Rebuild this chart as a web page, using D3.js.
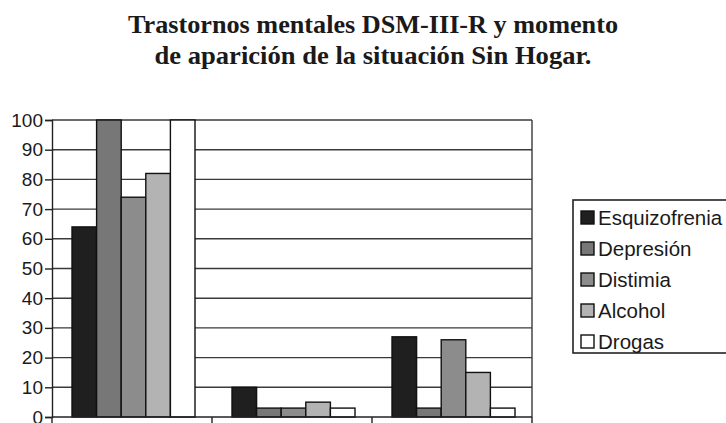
<!DOCTYPE html>
<html>
<head>
<meta charset="utf-8">
<script src="https://cdn.jsdelivr.net/npm/d3@7/dist/d3.min.js"></script>
<style>
  html, body { margin: 0; padding: 0; background: #fff; }
  svg { display: block; }
</style>
</head>
<body>
<svg id="chart" width="726" height="423"></svg>
<script>
// Momento de aparición (three groups, unlabeled on the axis)
const groups = ["Antes", "Durante", "Después"];
const series = ["Esquizofrenia", "Depresión", "Distimia", "Alcohol", "Drogas"];
const esquizofrenia = [64, 10, 27];
const depresion     = [100, 3, 3];
const distimia      = [74, 3, 26];
const alcohol       = [82, 5, 15];
const drogas        = [100, 3, 3];
const yTicks = [0, 10, 20, 30, 40, 50, 60, 70, 80, 90, 100];
const titleLines = ["Trastornos mentales DSM-III-R y momento", "de aparición de la situación Sin Hogar."];

const seriesValues = [esquizofrenia, depresion, distimia, alcohol, drogas];
const fills = ["#1f1f1f", "#777777", "#8c8c8c", "#b3b3b3", "#ffffff"];

const svg = d3.select("#chart");
const plot = { left: 52, right: 532, top: 120, bottom: 417 };

// Title (two centred lines, fitted to the set widths)
const titleWidths = [490, 437];
svg.append("g").selectAll("text")
  .data(titleLines)
  .join("text")
  .attr("x", 373)
  .attr("y", (d, i) => 33 + i * 31)
  .attr("text-anchor", "middle")
  .attr("textLength", (d, i) => titleWidths[i])
  .attr("lengthAdjust", "spacingAndGlyphs")
  .style("font-family", "'Liberation Serif', 'Times New Roman', serif")
  .style("font-weight", "bold")
  .style("font-size", "26px")
  .attr("fill", "#1a1a1a")
  .text(d => d);

const y = d3.scaleLinear().domain([0, 100]).range([plot.bottom, plot.top]);
const x0 = d3.scaleBand().domain(groups).range([plot.left, plot.right]).padding(0);
const x1 = d3.scaleBand().domain(series).range([20, x0.bandwidth() - 17]).padding(0);

// Horizontal gridlines
svg.append("g").selectAll("line")
  .data(yTicks.filter(t => t > 0))
  .join("line")
  .attr("x1", plot.left).attr("x2", plot.right)
  .attr("y1", d => y(d)).attr("y2", d => y(d))
  .attr("stroke", "#3a3a3a").attr("stroke-width", 1.4);

// Plot frame (right side)
svg.append("line")
  .attr("x1", plot.right).attr("x2", plot.right)
  .attr("y1", plot.top).attr("y2", plot.bottom)
  .attr("stroke", "#3a3a3a").attr("stroke-width", 1.4);

// Bars
const groupG = svg.append("g").selectAll("g")
  .data(groups)
  .join("g")
  .attr("transform", d => `translate(${x0(d)},0)`);

groupG.selectAll("rect")
  .data((g, gi) => series.map((s, si) => ({ s, si, v: seriesValues[si][gi] })))
  .join("rect")
  .attr("x", d => x1(d.s))
  .attr("y", d => y(d.v))
  .attr("width", x1.bandwidth())
  .attr("height", d => y(0) - y(d.v))
  .attr("fill", d => fills[d.si])
  .attr("stroke", "#111")
  .attr("stroke-width", 1.4);

// Y axis
const yAxis = svg.append("g")
  .attr("transform", `translate(${plot.left},0)`)
  .call(d3.axisLeft(y).tickValues(yTicks).tickSize(7).tickPadding(2).tickFormat(d3.format("d")));
yAxis.select(".domain").attr("stroke", "#222").attr("stroke-width", 1.4);
yAxis.selectAll(".tick line").attr("stroke", "#222").attr("stroke-width", 1.4);
yAxis.selectAll("text")
  .style("font-family", "'Liberation Sans', Arial, sans-serif")
  .style("font-size", "19px")
  .attr("fill", "#1a1a1a");

// X axis with tick marks at group boundaries
const xAxis = svg.append("g")
  .attr("transform", `translate(0,${plot.bottom})`);
xAxis.append("line")
  .attr("x1", plot.left).attr("x2", plot.right)
  .attr("y1", 0).attr("y2", 0)
  .attr("stroke", "#222").attr("stroke-width", 1.4);
xAxis.selectAll("line.tick")
  .data(groups.map(g => x0(g)).concat([plot.right]))
  .join("line")
  .attr("class", "tick")
  .attr("x1", d => d).attr("x2", d => d)
  .attr("y1", 0).attr("y2", 6)
  .attr("stroke", "#222").attr("stroke-width", 1.4);

// Legend
const legend = svg.append("g").attr("transform", "translate(573,200)");
legend.append("rect")
  .attr("x", 0).attr("y", 0)
  .attr("width", 160).attr("height", 153)
  .attr("fill", "#fff")
  .attr("stroke", "#222").attr("stroke-width", 1.6);
const items = legend.selectAll("g.item")
  .data(series)
  .join("g")
  .attr("class", "item")
  .attr("transform", (d, i) => `translate(8,${18 + i * 31})`);
items.append("rect")
  .attr("x", 0).attr("y", -7)
  .attr("width", 13).attr("height", 13)
  .attr("fill", (d, i) => fills[i])
  .attr("stroke", "#111").attr("stroke-width", 1.4);
items.append("text")
  .attr("x", 17).attr("y", 0)
  .attr("dy", "0.35em")
  .style("font-family", "'Liberation Sans', Arial, sans-serif")
  .style("font-size", "20.5px")
  .attr("fill", "#1a1a1a")
  .text(d => d);
</script>
</body>
</html>
